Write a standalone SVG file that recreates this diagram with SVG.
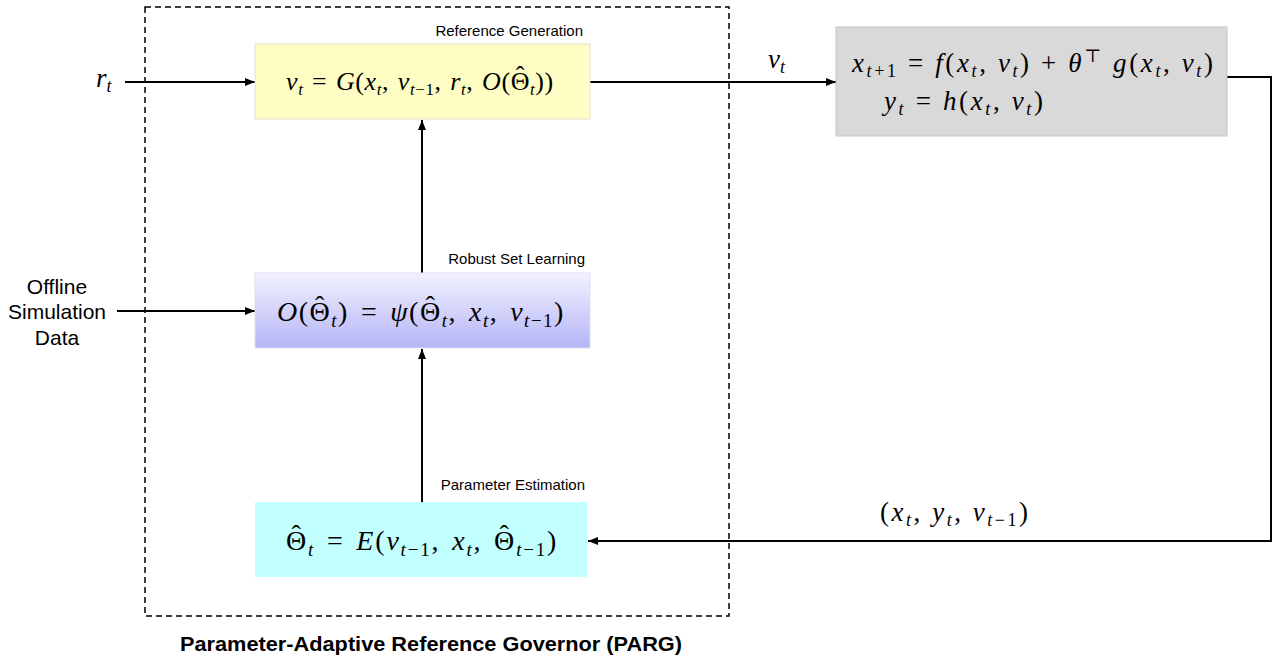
<svg xmlns="http://www.w3.org/2000/svg" width="1277" height="657" viewBox="0 0 1277 657">
<defs>
<marker id="ah" viewBox="0 0 10 10" refX="10" refY="5" markerWidth="10" markerHeight="10" markerUnits="userSpaceOnUse" orient="auto">
<path d="M0,1 L10,5 L0,9 Z" fill="#000"/>
</marker>
<linearGradient id="lav" x1="0" y1="0" x2="0" y2="1">
<stop offset="0" stop-color="#f2f2ff"/>
<stop offset="1" stop-color="#b4b4f6"/>
</linearGradient>
<style>
.m{font-family:"Liberation Serif","DejaVu Serif",serif;font-size:27px;fill:#000}
.i{font-style:italic}
.s{font-size:18px}
.b1{font-size:26px;letter-spacing:0.6px;word-spacing:1.5px}
.b1 .s{font-size:17px}
.b2{font-size:28px;letter-spacing:1.5px;word-spacing:3.5px}
.b3{font-size:28px;letter-spacing:1.8px;word-spacing:3px}
.b2 .s,.b3 .s{font-size:19px}
.lbl{font-family:"Liberation Sans",Arial,sans-serif;font-size:15px;fill:#000}
.big{font-family:"Liberation Sans",Arial,sans-serif;font-size:21px;fill:#000}
.ttl{font-family:"Liberation Sans",Arial,sans-serif;font-size:20px;font-weight:bold;fill:#000}
.c{fill:none;stroke:#000;stroke-width:2}
</style>
</defs>
<rect width="1277" height="657" fill="#fff"/>
<g id="parg">
<rect x="145" y="7" width="584" height="609" fill="none" stroke="#000" stroke-width="1.5" stroke-dasharray="6,4"/>
<text class="ttl" x="180" y="651" textLength="502" lengthAdjust="spacingAndGlyphs">Parameter-Adaptive Reference Governor (PARG)</text>
</g>
<g id="connectors">
<line class="c" x1="125" y1="82" x2="255" y2="82" marker-end="url(#ah)"/>
<line class="c" x1="117" y1="311" x2="255" y2="311" marker-end="url(#ah)"/>
<line class="c" x1="590" y1="82" x2="836" y2="82" marker-end="url(#ah)"/>
<line class="c" x1="422" y1="273" x2="422" y2="120" marker-end="url(#ah)" stroke-width="1.5"/>
<line class="c" x1="422" y1="502" x2="422" y2="349" marker-end="url(#ah)" stroke-width="1.5"/>
<polyline class="c" points="1227,77 1271,77 1271,541 588,541" marker-end="url(#ah)"/>
</g>
<g id="in-r">
<text class="m" x="96" y="87"><tspan class="i">r</tspan><tspan class="s i" dy="5">t</tspan></text>
</g>
<g id="in-offline">
<text class="big" x="57" y="294" text-anchor="middle">Offline</text>
<text class="big" x="57" y="319" text-anchor="middle">Simulation</text>
<text class="big" x="57" y="345" text-anchor="middle">Data</text>
</g>
<g id="ref-gen">
<rect x="255" y="44" width="335" height="75" fill="#fefec4" stroke="#e2e2cc" stroke-width="1"/>
<text class="lbl" x="583" y="36" text-anchor="end">Reference Generation</text>
<text class="m b1" x="286" y="90"><tspan class="i">v</tspan><tspan class="s i" dy="5">t</tspan><tspan dy="-5"> = </tspan><tspan class="i">G</tspan>(<tspan class="i">x</tspan><tspan class="s i" dy="5">t</tspan><tspan dy="-5">, </tspan><tspan class="i">v</tspan><tspan class="s" dy="5"><tspan class="i">t</tspan>−1</tspan><tspan dy="-5">, </tspan><tspan class="i">r</tspan><tspan class="s i" dy="5">t</tspan><tspan dy="-5">, </tspan><tspan class="i">O</tspan>(Θ<tspan dx="-14.3" dy="-6">ˆ</tspan><tspan class="s i" dx="5" dy="11">t</tspan><tspan dy="-5">))</tspan></text>
</g>
<g id="robust-set">
<rect x="255" y="273" width="335" height="75" fill="url(#lav)" stroke="#e0e0ee" stroke-width="1"/>
<text class="lbl" x="585" y="264" text-anchor="end">Robust Set Learning</text>
<text class="m b2" x="277" y="321"><tspan class="i">O</tspan>(Θ<tspan dx="-16.25" dy="-6.5">ˆ</tspan><tspan class="s i" dx="5.45" dy="12.5">t</tspan><tspan dy="-6">) = </tspan><tspan class="i">ψ</tspan>(Θ<tspan dx="-16.25" dy="-6.5">ˆ</tspan><tspan class="s i" dx="5.45" dy="12.5">t</tspan><tspan dy="-6">, </tspan><tspan class="i">x</tspan><tspan class="s i" dy="6">t</tspan><tspan dy="-6">, </tspan><tspan class="i">v</tspan><tspan class="s" dy="6"><tspan class="i">t</tspan>−1</tspan><tspan dy="-6">)</tspan></text>
</g>
<g id="param-est">
<rect x="255" y="502" width="332" height="75" fill="#c2ffff"/>
<text class="lbl" x="585" y="490" text-anchor="end">Parameter Estimation</text>
<text class="m b3" x="286" y="550">Θ<tspan dx="-16.55" dy="-6.5">ˆ</tspan><tspan class="s i" dx="5.45" dy="12.5">t</tspan><tspan dy="-6"> = </tspan><tspan class="i">E</tspan>(<tspan class="i">v</tspan><tspan class="s" dy="6"><tspan class="i">t</tspan>−1</tspan><tspan dy="-6">, </tspan><tspan class="i">x</tspan><tspan class="s i" dy="6">t</tspan><tspan dy="-6">, </tspan>Θ<tspan dx="-16.55" dy="-6.5">ˆ</tspan><tspan class="s" dx="5.45" dy="12.5"><tspan class="i">t</tspan>−1</tspan><tspan dy="-6">)</tspan></text>
</g>
<g id="plant">
<rect x="836" y="27" width="391" height="109" fill="#d9d9d9" stroke="#c4c4c4" stroke-width="1"/>
<text class="m" x="852" y="72" textLength="361" lengthAdjust="spacing"><tspan class="i">x</tspan><tspan class="s" dy="5"><tspan class="i">t</tspan>+1</tspan><tspan dy="-5"> = </tspan><tspan class="i">f</tspan>(<tspan class="i">x</tspan><tspan class="s i" dy="5">t</tspan><tspan dy="-5">, </tspan><tspan class="i">v</tspan><tspan class="s i" dy="5">t</tspan><tspan dy="-5">) + </tspan><tspan class="i">θ</tspan><tspan class="s" dy="-10">⊤</tspan><tspan dy="10" class="i"> g</tspan>(<tspan class="i">x</tspan><tspan class="s i" dy="5">t</tspan><tspan dy="-5">, </tspan><tspan class="i">v</tspan><tspan class="s i" dy="5">t</tspan><tspan dy="-5">)</tspan></text>
<text class="m" x="884" y="110" textLength="159" lengthAdjust="spacing"><tspan class="i">y</tspan><tspan class="s i" dy="5">t</tspan><tspan dy="-5"> = </tspan><tspan class="i">h</tspan>(<tspan class="i">x</tspan><tspan class="s i" dy="5">t</tspan><tspan dy="-5">, </tspan><tspan class="i">v</tspan><tspan class="s i" dy="5">t</tspan><tspan dy="-5">)</tspan></text>
</g>
<g id="lbl-v">
<text class="m" x="768" y="68"><tspan class="i">v</tspan><tspan class="s i" dy="5">t</tspan></text>
</g>
<g id="lbl-fb">
<text class="m" x="880" y="521" textLength="148" lengthAdjust="spacing">(<tspan class="i">x</tspan><tspan class="s i" dy="5">t</tspan><tspan dy="-5">, </tspan><tspan class="i">y</tspan><tspan class="s i" dy="5">t</tspan><tspan dy="-5">, </tspan><tspan class="i">v</tspan><tspan class="s" dy="5"><tspan class="i">t</tspan>−1</tspan><tspan dy="-5">)</tspan></text>
</g>
</svg>
